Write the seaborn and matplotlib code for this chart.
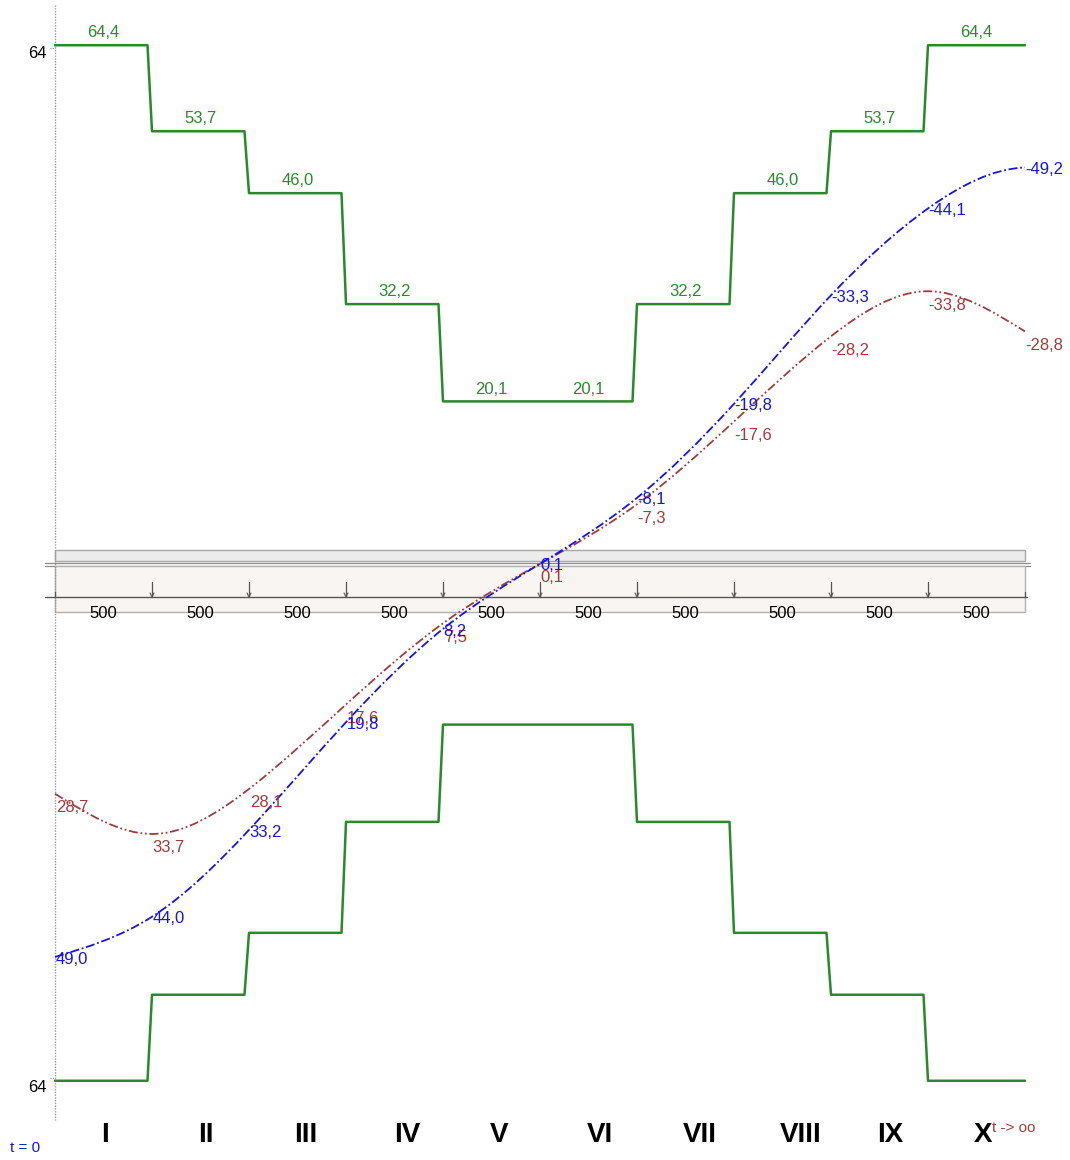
import numpy as np
import matplotlib
matplotlib.use("Agg")
import matplotlib.pyplot as plt
from matplotlib.path import Path
from matplotlib.patches import PathPatch, Rectangle
import seaborn as sns

# ---------------- data ----------------
sections = ["I", "II", "III", "IV", "V", "VI", "VII", "VIII", "IX", "X"]
green_levels = [64.4, 53.7, 46.0, 32.2, 20.1, 20.1, 32.2, 46.0, 53.7, 64.4]
blue_values = [49.0, 44.0, 33.2, 19.8, 8.2, 0.1, -8.1, -19.8, -33.3, -44.1, -49.2]
brown_values = [28.7, 33.7, 28.1, 17.6, 7.5, 0.1, -7.3, -17.6, -28.2, -33.8, -28.8]
section_lengths = ["500"] * 10
ytick_value = 64

# ---------------- style ----------------
sns.set_theme(style="white")
plt.rcParams["font.family"] = ["Liberation Sans", "DejaVu Sans"]

GREEN = "#2a8a2a"
BLUE = "#1414e6"
BROWN = "#a03c3c"

W, H = 1070, 1160
fig = plt.figure(figsize=(W / 100, H / 100), dpi=100)
ax = fig.add_axes([0, 0, 1, 1])
ax.axis("off")

# pixel -> data helpers (layout only)
X0, DX = 55.0, 97.0
Y0, DY = 563.0, 8.04
def X(px):
    return (px - X0) / DX
def Y(py):
    return (Y0 - py) / DY

ax.set_xlim(X(0), X(W))
ax.set_ylim(Y(H), Y(0))

# ---------------- left axis ----------------
ax.plot([0, 0], [Y(5), Y(1120)], color="#9a9a9a", lw=1.0, ls=(0, (1, 1)))
for s in (1, -1):
    ax.plot([X(50), 0], [s * ytick_value, s * ytick_value], color="#9a9a9a", lw=0.8, ls=(0, (1, 1)))
ax.text(X(47), Y(53), str(ytick_value), ha="right", va="center", fontsize=12, color="black")
ax.text(X(47), Y(1088), str(ytick_value), ha="right", va="center", fontsize=12, color="black")

# ---------------- middle band ----------------
ax.add_patch(Rectangle((0, Y(561)), 10, Y(550) - Y(561), facecolor="#ececec",
                       edgecolor="#a8a8a8", lw=1.0, zorder=1))
ax.plot([X(45), X(1030)], [Y(562.5), Y(562.5)], color="#8a8a8a", lw=0.9, zorder=1)
ax.plot([X(45), X(1030)], [Y(565.5), Y(565.5)], color="#8a8a8a", lw=0.9, zorder=1)
ax.add_patch(Rectangle((0, Y(612)), 10, Y(566) - Y(612), facecolor="#f8f5f2",
                       edgecolor="#b0b0b0", lw=1.0, zorder=1))
ax.plot([X(45), X(1027)], [Y(597), Y(597)], color="#555555", lw=1.0, zorder=2)
for k in range(0, len(sections) + 1):
    ax.plot([k, k], [Y(582 if 0 < k < len(sections) else 592), Y(597)], color="#555555", lw=0.9, zorder=2)
    if 0 < k < len(sections):
        ax.plot([k - 0.02, k, k + 0.02], [Y(593), Y(597), Y(593)], color="#555555", lw=0.8, zorder=2)
for i, lab in enumerate(section_lengths):
    ax.text(i + 0.5, Y(613), lab, ha="center", va="center", fontsize=12, color="black", zorder=3)

# ---------------- green steps ----------------
ramp = 4.5 / DX
gx, gy = [], []
for i, lv in enumerate(green_levels):
    gx += [i, i + 1 - ramp if i < len(green_levels) - 1 else i + 1]
    gy += [lv, lv]
gx = np.array(gx)
gy = np.array(gy)
sns.lineplot(x=gx, y=gy, sort=False, estimator=None, color=GREEN, lw=1.8, ax=ax)
sns.lineplot(x=gx, y=-gy, sort=False, estimator=None, color=GREEN, lw=1.8, ax=ax)
for i, lv in enumerate(green_levels):
    ax.annotate(f"{lv:.1f}".replace(".", ","), (i + 0.5, lv), xytext=(0, 3.5),
                textcoords="offset points", ha="center", va="bottom", fontsize=12, color=GREEN)

# ---------------- smooth curves (cubic spline drawn as Bezier path) ----------------
def spline_path(vals, end_slope=None):
    y = -np.asarray(vals, dtype=float)
    n = len(y)
    A = np.zeros((n, n))
    b = np.zeros(n)
    A[0, 0], A[0, 1], b[0] = 2, 1, 3 * (y[1] - y[0])
    if end_slope is None:
        A[-1, -2], A[-1, -1], b[-1] = 1, 2, 3 * (y[-1] - y[-2])
    else:
        A[-1, -1], b[-1] = 1, end_slope
    for i in range(1, n - 1):
        A[i, i - 1], A[i, i], A[i, i + 1] = 1, 4, 1
        b[i] = 3 * (y[i + 1] - y[i - 1])
    m = np.linalg.solve(A, b)
    verts = [(0, y[0])]
    codes = [Path.MOVETO]
    for i in range(n - 1):
        verts += [(i + 1 / 3, y[i] + m[i] / 3), (i + 1 - 1 / 3, y[i + 1] - m[i + 1] / 3), (i + 1, y[i + 1])]
        codes += [Path.CURVE4] * 3
    return Path(verts, codes)

ax.add_patch(PathPatch(spline_path(brown_values), facecolor="none", edgecolor=BROWN,
                       lw=1.3, ls=(0, (5, 1.5, 1, 1.5, 1, 1.5)), zorder=4))
ax.add_patch(PathPatch(spline_path(blue_values, end_slope=0.5), facecolor="none", edgecolor=BLUE,
                       lw=1.3, ls=(0, (5, 1.5, 1, 1.5)), zorder=5))

def fmt(v):
    return f"{v:.1f}".replace(".", ",")

for i, v in enumerate(brown_values):
    ax.annotate(fmt(v), (i, -v), xytext=(0.5, -10), textcoords="offset points",
                ha="left", va="center", fontsize=12, color=BROWN, zorder=6)
for i, v in enumerate(blue_values):
    ax.annotate(fmt(v), (i, -v), xytext=(0.5, -1.5), textcoords="offset points",
                ha="left", va="center", fontsize=12, color=BLUE, zorder=7)

# ---------------- section numerals ----------------
numeral_px = [105, 206, 306, 407, 499, 600, 700, 801, 890, 983]
for s, px in zip(sections, numeral_px):
    ax.text(X(px), Y(1135), s, ha="center", va="center", fontsize=20,
            fontweight="bold", color="black")

ax.text(X(10), Y(1148), "t = 0", ha="left", va="center", fontsize=11, color=BLUE)
ax.text(X(992), Y(1128), "t -> oo", ha="left", va="center", fontsize=11, color=BROWN)

fig.savefig("out.png", dpi=100)
